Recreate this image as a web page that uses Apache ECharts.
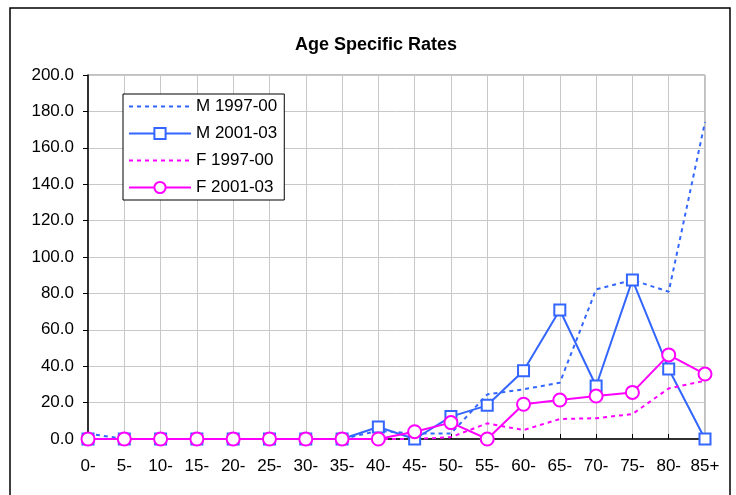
<!DOCTYPE html>
<html>
<head>
<meta charset="utf-8">
<script src="https://cdn.jsdelivr.net/npm/echarts@6/dist/echarts.min.js"></script>
<style>html,body{margin:0;padding:0;background:#fff;}#c{width:736px;height:495px;}</style>
</head>
<body>
<div id="c"></div>
<script>
const categories = ['0-','5-','10-','15-','20-','25-','30-','35-','40-','45-','50-','55-','60-','65-','70-','75-','80-','85+'];
const m1997 = [3.0, 0, 0, 0, 0, 0, 0, 0, 4.5, 3.0, 3.0, 24.5, 27.3, 30.9, 82.2, 87.4, 80.9, 174.2];
const m2001 = [0, 0, 0, 0, 0, 0, 0, 0, 6.6, 0, 12.3, 18.5, 37.5, 70.9, 29.1, 87.4, 38.5, 0];
const f1997 = [0, 0, 0, 0, 0, 0, 0, 0, 0, 0, 1.0, 8.6, 4.9, 11.0, 11.4, 13.7, 27.8, 32.0];
const f2001 = [0, 0, 0, 0, 0, 0, 0, 0, 0, 4.0, 9.0, 0, 19.1, 21.4, 23.6, 25.6, 46.2, 35.7];
const seriesNames = ['M 1997-00', 'M 2001-03', 'F 1997-00', 'F 2001-03'];
const yTicks = {min: 0, max: 200, interval: 20};

const BLUE = '#3366FF';
const MAG = '#FF00FF';
const FONT = "'Liberation Sans', Arial, sans-serif";

const chart = echarts.init(document.getElementById('c'), null, {renderer: 'canvas'});
chart.setOption({
  animation: false,
  backgroundColor: '#fff',
  textStyle: {fontFamily: FONT},
  title: {
    text: 'Age Specific Rates',
    left: 371, top: 31, textAlign: 'center',
    textStyle: {fontSize: 18, fontWeight: 'bold', color: '#000', fontFamily: FONT}
  },
  graphic: [{
    type: 'rect', z: -1,
    shape: {x: 10, y: 8, width: 720, height: 500},
    style: {fill: 'none', stroke: '#000', lineWidth: 1.5}
  }],
  legend: {
    orient: 'vertical',
    left: 123, top: 94,
    itemWidth: 62, itemHeight: 14, itemGap: 10,
    padding: [4, 7, 4, 5],
    backgroundColor: '#fff',
    borderColor: '#000', borderWidth: 1,
    textStyle: {fontSize: 17, color: '#000', fontFamily: FONT},
    data: [
      {name: seriesNames[0], itemStyle: {opacity: 0}},
      {name: seriesNames[1]},
      {name: seriesNames[2], itemStyle: {opacity: 0}},
      {name: seriesNames[3]}
    ]
  },
  grid: {
    left: 88, right: 31, top: 75, bottom: 56,
    show: true, borderColor: '#808080', borderWidth: 1, backgroundColor: 'transparent'
  },
  xAxis: {
    type: 'category',
    data: categories,
    boundaryGap: false,
    axisLine: {lineStyle: {color: '#000', width: 1.5}},
    axisTick: {show: true, inside: true, length: 5, interval: 0, lineStyle: {color: '#000'}},
    axisLabel: {fontSize: 17, color: '#000', margin: 19, interval: 0, fontFamily: FONT},
    splitLine: {show: true, interval: 0, lineStyle: {color: '#c8c8c8', width: 1}}
  },
  yAxis: {
    type: 'value',
    min: yTicks.min, max: yTicks.max, interval: yTicks.interval,
    axisLine: {show: true, lineStyle: {color: '#000', width: 1.5}},
    axisTick: {show: true, length: 5, lineStyle: {color: '#000'}},
    axisLabel: {fontSize: 17, color: '#000', margin: 14, fontFamily: FONT,
      formatter: v => v.toFixed(1)},
    splitLine: {show: true, lineStyle: {color: '#c8c8c8', width: 1}}
  },
  series: [
    {
      name: seriesNames[0], type: 'line', data: m1997,
      symbol: 'none',
      lineStyle: {color: BLUE, width: 2, type: [4, 4]},
      itemStyle: {color: BLUE}
    },
    {
      name: seriesNames[1], type: 'line', data: m2001,
      symbol: 'rect', symbolSize: 11,
      lineStyle: {color: BLUE, width: 2},
      itemStyle: {color: '#fff', borderColor: BLUE, borderWidth: 2}
    },
    {
      name: seriesNames[2], type: 'line', data: f1997,
      symbol: 'none',
      lineStyle: {color: MAG, width: 2, type: [4, 4]},
      itemStyle: {color: MAG}
    },
    {
      name: seriesNames[3], type: 'line', data: f2001,
      symbol: 'circle', symbolSize: 13,
      lineStyle: {color: MAG, width: 2},
      itemStyle: {color: '#fff', borderColor: MAG, borderWidth: 2}
    }
  ]
});
</script>
</body>
</html>
